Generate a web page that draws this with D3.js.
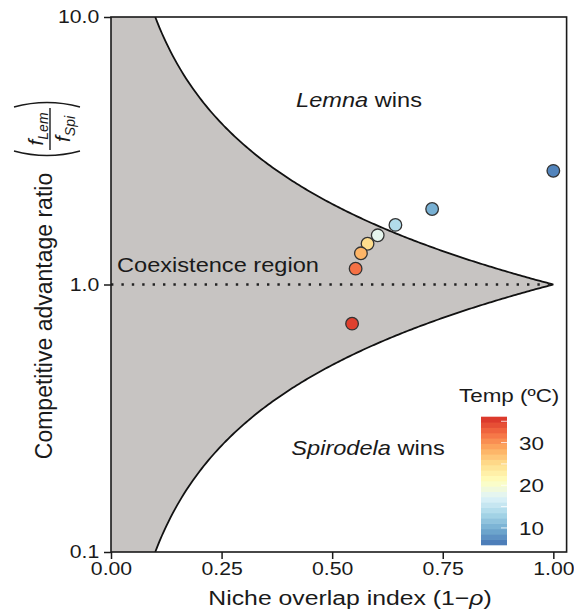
<!DOCTYPE html>
<html>
<head>
<meta charset="utf-8">
<script src="https://cdn.jsdelivr.net/npm/d3@7"></script>
<style>
  body { margin: 0; background: #fff; }
  text { font-family: "Liberation Sans", Arial, Helvetica, sans-serif; fill: #1a1a1a; }
</style>
</head>
<body>
<svg id="chart" width="574" height="614"></svg>
<script>
// Data: niche overlap (x), competitive advantage ratio (y), temperature (colour)
var overlap = [1.0, 0.726, 0.643, 0.603, 0.58, 0.565, 0.553, 0.545];
var ratio = [2.66, 1.915, 1.67, 1.527, 1.42, 1.308, 1.146, 0.714];
var temps = [7, 10, 14, 18, 25, 28, 32, 35];

// Axes / legend
var xTicks = [0, 0.25, 0.5, 0.75, 1.0];
var yTicks = [0.1, 1, 10];
var tempTicks = [10, 20, 30];
var tempMarks = [10, 15, 20, 25, 30, 35];
var tempDomain = [6, 36];

var sx = 1.18; // glyphs in the figure are a bit wider than Liberation Sans

var svg = d3.select("#chart");

var x = d3.scaleLinear().domain([0, 1.03]).range([111, 566.6]);
var y = d3.scaleLog().domain([0.1, 10]).range([552, 17]);

var palette = d3.schemeRdYlBu[9].slice().reverse();
var color = d3.scaleLinear()
  .domain(palette.map(function(d, i) {
    return tempDomain[0] + i * (tempDomain[1] - tempDomain[0]) / (palette.length - 1);
  }))
  .range(palette)
  .interpolate(d3.interpolateRgb);

svg.append("clipPath").attr("id", "plot-clip")
  .append("rect")
  .attr("x", x(0)).attr("y", y(10))
  .attr("width", x(1.03) - x(0)).attr("height", y(0.1) - y(10));

var plot = svg.append("g").attr("clip-path", "url(#plot-clip)");

// coexistence region: rho < ratio < 1/rho
var rhos = d3.range(0.1, 1.00001, 0.005);
var upper = rhos.map(function(r) { return [r, 1 / r]; });
var lower = rhos.map(function(r) { return [r, r]; });
var region = [[0, 10]].concat(upper, lower.slice().reverse(), [[0, 0.1]]);

var line = d3.line()
  .x(function(d) { return x(d[0]); })
  .y(function(d) { return y(d[1]); });

plot.append("path")
  .attr("d", line(region) + "Z")
  .attr("fill", "#c7c4c2")
  .attr("stroke", "none");

[upper, lower].forEach(function(c) {
  plot.append("path")
    .attr("d", line(c))
    .attr("fill", "none")
    .attr("stroke", "#111")
    .attr("stroke-width", 1.8);
});

plot.append("line")
  .attr("x1", x(0)).attr("x2", x(1))
  .attr("y1", y(1)).attr("y2", y(1))
  .attr("stroke", "#222")
  .attr("stroke-width", 2.4)
  .attr("stroke-dasharray", "2.4,8");

// frame
svg.append("rect")
  .attr("x", x(0)).attr("y", y(10))
  .attr("width", x(1.03) - x(0)).attr("height", y(0.1) - y(10))
  .attr("fill", "none")
  .attr("stroke", "#1a1a1a")
  .attr("stroke-width", 1.6);

// axes
var yAxis = svg.append("g")
  .attr("transform", "translate(" + x(0) + ",0)")
  .call(d3.axisLeft(y).tickValues(yTicks).tickFormat(d3.format(".1f"))
    .tickSize(7).tickPadding(3).tickSizeOuter(0));

var xAxis = svg.append("g")
  .attr("transform", "translate(0," + y(0.1) + ")")
  .call(d3.axisBottom(x).tickValues(xTicks).tickFormat(d3.format(".2f"))
    .tickSize(7).tickPadding(3).tickSizeOuter(0));

[yAxis, xAxis].forEach(function(a) {
  a.select(".domain").remove();
  a.selectAll(".tick line").attr("stroke", "#1a1a1a").attr("stroke-width", 1.5);
  a.selectAll(".tick text")
    .attr("fill", "#1a1a1a")
    .style("font-size", "18px")
    .style("font-family", "'Liberation Sans', Arial, sans-serif")
    .attr("transform", "scale(" + sx + ",1)");
});

// points
svg.append("g").selectAll("circle")
  .data(overlap)
  .enter()
  .append("circle")
  .attr("cx", function(d) { return x(d); })
  .attr("cy", function(d, i) { return y(ratio[i]); })
  .attr("r", 6.3)
  .attr("fill", function(d, i) { return color(temps[i]); })
  .attr("stroke", "#333")
  .attr("stroke-width", 1.3);

function label(px, py, size, anchor) {
  return svg.append("text")
    .attr("transform", "translate(" + px + "," + py + ") scale(" + sx + ",1)")
    .attr("text-anchor", anchor)
    .style("font-size", size + "px");
}

var t1 = label(359, 107, 20, "middle");
t1.append("tspan").style("font-style", "italic").text("Lemna");
t1.append("tspan").text(" wins");

label(117, 272, 20, "start").text("Coexistence region");

var t2 = label(368, 455, 20, "middle");
t2.append("tspan").style("font-style", "italic").text("Spirodela");
t2.append("tspan").text(" wins");

var xl = label(350, 605, 21, "middle");
xl.append("tspan").text("Niche overlap index (1\u2212");
xl.append("tspan").style("font-style", "italic").text("\u03c1");
xl.append("tspan").text(")");

// y label, rotated
var yl = svg.append("g").attr("transform", "translate(52,0) rotate(-90)");
yl.append("text")
  .attr("x", -316).attr("y", 0)
  .attr("text-anchor", "middle")
  .style("font-size", "23px")
  .text("Competitive advantage ratio");

var fx = -129;
var num = yl.append("text").attr("x", fx).attr("y", -9).attr("text-anchor", "middle").style("font-size", "21px");
num.append("tspan").style("font-style", "italic").text("f");
num.append("tspan").style("font-style", "italic").style("font-size", "14px").attr("dy", 5).text("Lem");
var den = yl.append("text").attr("x", fx).attr("y", 18).attr("text-anchor", "middle").style("font-size", "21px");
den.append("tspan").style("font-style", "italic").text("f");
den.append("tspan").style("font-style", "italic").style("font-size", "14px").attr("dy", 5).text("Spi");
yl.append("line")
  .attr("x1", fx - 21).attr("x2", fx + 21)
  .attr("y1", -2).attr("y2", -2)
  .attr("stroke", "#1a1a1a").attr("stroke-width", 1.4);
yl.append("path")
  .attr("d", "M" + (fx - 22) + ",-38 Q" + (fx - 31) + ",-5 " + (fx - 22) + ",28")
  .attr("fill", "none").attr("stroke", "#1a1a1a").attr("stroke-width", 1.4);
yl.append("path")
  .attr("d", "M" + (fx + 22) + ",-38 Q" + (fx + 31) + ",-5 " + (fx + 22) + ",28")
  .attr("fill", "none").attr("stroke", "#1a1a1a").attr("stroke-width", 1.4);

// colour bar
var tScale = d3.scaleLinear().domain(tempDomain).range([545, 417]);
var bandStep = 1.25;
var bands = d3.range(tempDomain[0], tempDomain[1], bandStep);
var bar = svg.append("g");
bar.selectAll("rect")
  .data(bands)
  .enter()
  .append("rect")
  .attr("x", 481)
  .attr("width", 26)
  .attr("y", function(d) { return tScale(d + bandStep) - 0.3; })
  .attr("height", function(d) { return tScale(d) - tScale(d + bandStep) + 0.6; })
  .attr("fill", function(d) { return color(d + bandStep / 2); });

bar.selectAll("line")
  .data(tempMarks)
  .enter()
  .append("line")
  .attr("x1", 501).attr("x2", 507)
  .attr("y1", function(d) { return tScale(d); })
  .attr("y2", function(d) { return tScale(d); })
  .attr("stroke", "#fff")
  .attr("stroke-opacity", 0.8)
  .attr("stroke-width", 1);

tempTicks.forEach(function(t) {
  label(519, tScale(t) + 7, 19, "start").text(t);
});

label(459, 402, 19, "start").text("Temp (\u00baC)");
</script>
</body>
</html>
